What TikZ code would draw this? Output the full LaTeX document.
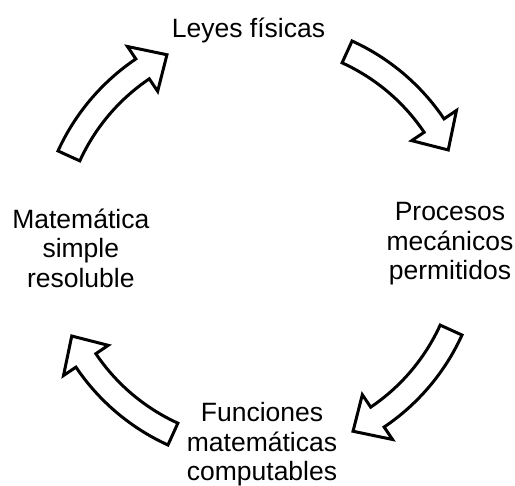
\documentclass[tikz,border=0pt]{standalone}
\usepackage{fontspec}
\setmainfont{Liberation Sans}
\usetikzlibrary{positioning}

% hollow curved arrow on the cycle, turned by #1 degrees
\newcommand{\cyclearrow}[1]{%
  \draw[blockarrow, rotate=#1] (65.5:222) arc[start angle=65.5, end angle=34, radius=222]
    -- (34:237) -- (26.3:210) -- (34:183) -- (34:198)
    arc[start angle=34, end angle=65.5, radius=198] -- cycle;}

\begin{document}
\begin{tikzpicture}[x=0.5pt, y=0.5pt]
	\tikzstyle{every node}=[align=center, inner sep=0pt, font=\fontsize{13.25}{14.75}\selectfont]
	\tikzstyle{blockarrow}=[draw=black, line width=1.5pt, fill=white, line join=miter]
	\useasboundingbox (-260,-243) rectangle (255,243);

	\node[anchor=base] (leyes) at (-11.5, 205) {Leyes físicas};
	\node (procesos) at (190, -0.7) {Procesos\\mecánicos\\permitidos};
	\node (funciones) at (2, -201.3) {Funciones\\matemáticas\\computables};
	\node (matematica) at (-179.2, -4.9) {Matemática\\simple\\resoluble};

	\foreach \k in {0, 90, 180, 270}
		\cyclearrow{-\k};
\end{tikzpicture}
\end{document}
